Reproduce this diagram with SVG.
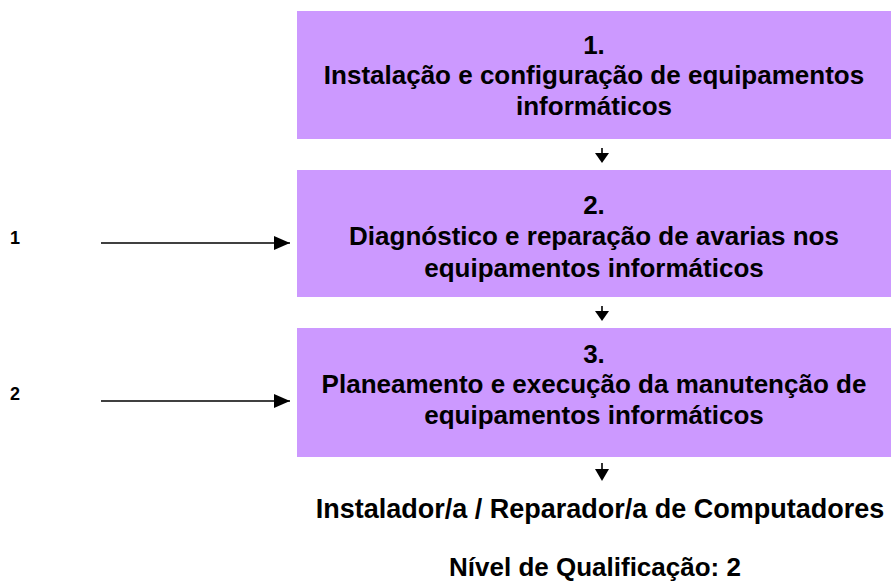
<svg xmlns="http://www.w3.org/2000/svg" width="892" height="582" viewBox="0 0 892 582">
<style>
.box{fill:#CC99FF;stroke:none}
.t{font-family:"Liberation Sans",Arial,sans-serif;font-weight:bold;font-size:26px;fill:#000;text-anchor:middle}
.b{font-size:27px}
.lbl{font-family:"Liberation Sans",Arial,sans-serif;font-weight:bold;font-size:18px;fill:#000}
.ln{stroke:#000;stroke-width:1.6;fill:none}
.hd{fill:#000;stroke:none}
</style>
<defs>
<marker id="ah" viewBox="0 0 16 14" refX="16" refY="7" markerWidth="16" markerHeight="14" markerUnits="userSpaceOnUse" orient="auto">
<path d="M0,0 L16,7 L0,14 Z" fill="#000"/>
</marker>
</defs>
<rect width="892" height="582" fill="#fff"/>
<g id="node1">
<rect class="box" x="297" y="11" width="594" height="128"/>
<text class="t" x="594" y="54">1.</text>
<text class="t" x="594" y="84">Instalação e configuração de equipamentos</text>
<text class="t" x="594" y="115">informáticos</text>
</g>
<g id="node2">
<rect class="box" x="297" y="170" width="594" height="127"/>
<text class="t" x="594" y="214">2.</text>
<text class="t" x="594" y="245">Diagnóstico e reparação de avarias nos</text>
<text class="t" x="594" y="277">equipamentos informáticos</text>
</g>
<g id="node3">
<rect class="box" x="297" y="328" width="594" height="129"/>
<text class="t" x="594" y="363">3.</text>
<text class="t" x="594" y="393">Planeamento e execução da manutenção de</text>
<text class="t" x="594" y="424">equipamentos informáticos</text>
</g>
<g id="result">
<text class="t b" x="600" y="518">Instalador/a / Reparador/a de Computadores</text>
<text class="t" x="595" y="576">Nível de Qualificação: 2</text>
</g>
<g id="label1"><text class="lbl" x="10" y="244">1</text></g>
<g id="label2"><text class="lbl" x="10" y="400">2</text></g>
<g id="connectors">
<line class="ln" x1="101" y1="243" x2="290" y2="243" marker-end="url(#ah)"/>
<line class="ln" x1="101" y1="401" x2="290" y2="401" marker-end="url(#ah)"/>
<line class="ln" x1="602" y1="148" x2="602" y2="155"/>
<path class="hd" d="M595,153 L609,153 L602,163 Z"/>
<line class="ln" x1="602" y1="306" x2="602" y2="313"/>
<path class="hd" d="M595,311 L609,311 L602,321 Z"/>
<line class="ln" x1="602" y1="463" x2="602" y2="471"/>
<path class="hd" d="M595,469 L609,469 L602,481 Z"/>
</g>
</svg>
